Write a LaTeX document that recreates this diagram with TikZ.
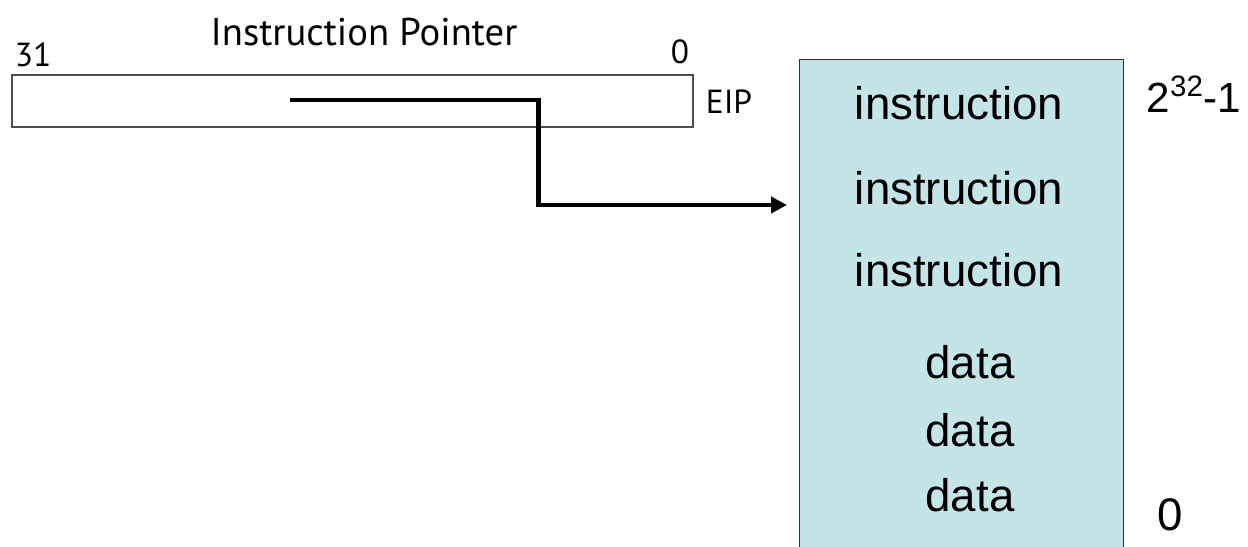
\documentclass[tikz,border=0pt]{standalone}
\usepackage{fontspec}
\setmainfont{Liberation Sans}
\newfontfamily\regfont{PT Sans}
\usetikzlibrary{calc,arrows.meta}
\definecolor{memblue}{RGB}{197,228,232}
\begin{document}
\begin{tikzpicture}[
		reglabel/.style={font=\regfont\fontsize{19}{22}\selectfont, inner sep=0pt},
		memlabel/.style={font=\fontsize{26}{30}\selectfont, inner sep=0pt},
		ptr/.style={line width=2.3pt, -{Triangle[length=9pt,width=9pt]}}
	]
			\clip (0, 0) rectangle (24.96, -10.94);

			\node [draw=black!70, line width=0.9pt, minimum width=13.62cm, minimum height=1.04cm, inner sep=0pt] (eip) at (7.05, -2.02) {};
			\node [draw=black!80, fill=memblue, line width=0.6pt, minimum width=6.48cm, minimum height=10.5cm, inner sep=0pt, anchor=north west] (mem) at (15.98, -1.18) {};

			\node [reglabel] (hibit) at (0.66, -1.1) {31};
			\node [reglabel] (lobit) at (13.6, -1.04) {0};
			\node [reglabel, font=\regfont\fontsize{22}{26}\selectfont] (iptitle) at (7.28, -0.64) {Instruction Pointer};
			\node [reglabel] (eipname) at (14.58, -2.04) {EIP};

			\node [memlabel] (ins1) at (19.18, -2.06) {instruction};
			\node [memlabel] (ins2) at (19.18, -3.76) {instruction};
			\node [memlabel] (ins3) at (19.18, -5.4) {instruction};
			\node [memlabel] (dat1) at (19.4, -7.24) {data};
			\node [memlabel] (dat2) at (19.4, -8.6) {data};
			\node [memlabel] (dat3) at (19.4, -9.9) {data};

			\node [memlabel, font=\fontsize{24}{28}\selectfont] (top) at (23.88, -1.88) {2\textsuperscript{32}-1};
			\node [memlabel] (bottom) at (23.4, -10.3) {0};

			\coordinate (ipstart) at (5.8, -2.0);
			\coordinate (ptrend) at (15.74, -4.1);
			\draw [ptr] (ipstart) -| ($(ipstart)!0.5!(ptrend)$) |- (ptrend);
		\end{tikzpicture}
\end{document}
